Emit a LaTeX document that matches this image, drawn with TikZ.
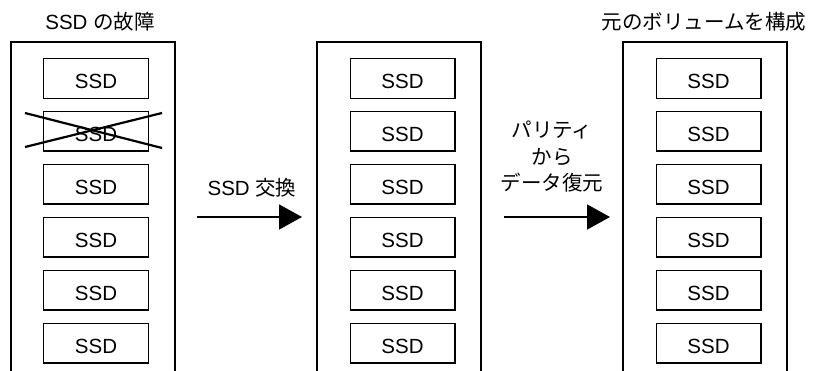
\documentclass[tikz,border=0pt]{standalone}
\usepackage{fontspec}
\setmainfont{Liberation Sans}
\newfontfamily\jp{Noto Sans CJK JP}
\usetikzlibrary{arrows.meta}

\begin{document}
\begin{tikzpicture}[x=1pt, y=-1pt,
  every node/.style={font=\fontsize{20.5}{26.5}\selectfont, inner sep=0pt, outer sep=0pt},
  ssd/.style={draw, line width=1.4pt, minimum width=106pt-\pgflinewidth, minimum height=41pt-\pgflinewidth, text height=20pt, text depth=0pt},
  shelf/.style={line width=1.8pt},
  move/.style={line width=1.6pt, -{Triangle[length=23pt, width=25pt]}}]
\useasboundingbox (0,0) rectangle (813,371);

% left: one SSD has failed
\node (t1) at (100,22) {SSD {\jp の故障}};
\draw[shelf] (11,371) -- (11,42) -- (175,42) -- (175,371);
\node[ssd] (l1) at (96,78.5) {SSD};
\node[ssd] (l2) at (96,131.4) {SSD};
\node[ssd] (l3) at (96,184.3) {SSD};
\node[ssd] (l4) at (96,237.2) {SSD};
\node[ssd] (l5) at (96,290.1) {SSD};
\node[ssd] (l6) at (96,343) {SSD};
\draw[line width=2.2pt] (25,113) -- (162,148);
\draw[line width=2.2pt] (25,147) -- (162,113);

% middle: the SSD is swapped
\draw[shelf] (317,371) -- (317,42) -- (481,42) -- (481,371);
\node[ssd] (m1) at (402.5,78.5) {SSD};
\node[ssd] (m2) at (402.5,131.4) {SSD};
\node[ssd] (m3) at (402.5,184.3) {SSD};
\node[ssd] (m4) at (402.5,237.2) {SSD};
\node[ssd] (m5) at (402.5,290.1) {SSD};
\node[ssd] (m6) at (402.5,343) {SSD};

% right: the volume is rebuilt
\node (t3) at (704,22) {\jp 元のボリュームを構成};
\draw[shelf] (623,371) -- (623,42) -- (787,42) -- (787,371);
\node[ssd] (r1) at (708.5,78.5) {SSD};
\node[ssd] (r2) at (708.5,131.4) {SSD};
\node[ssd] (r3) at (708.5,184.3) {SSD};
\node[ssd] (r4) at (708.5,237.2) {SSD};
\node[ssd] (r5) at (708.5,290.1) {SSD};
\node[ssd] (r6) at (708.5,343) {SSD};

% arrows between the steps
\coordinate (a1) at (197,217);
\coordinate (b1) at (302,217);
\coordinate (a2) at (504,217);
\coordinate (b2) at (610,217);
\draw[move] (a1) -- (b1);
\draw[move] (a2) -- (b2);
\node (s1) at (252,188) {SSD {\jp 交換}};
\node[align=center] (s2) at (552,157) {\jp パリティ\\\jp から\\\jp データ復元};
\end{tikzpicture}
\end{document}
